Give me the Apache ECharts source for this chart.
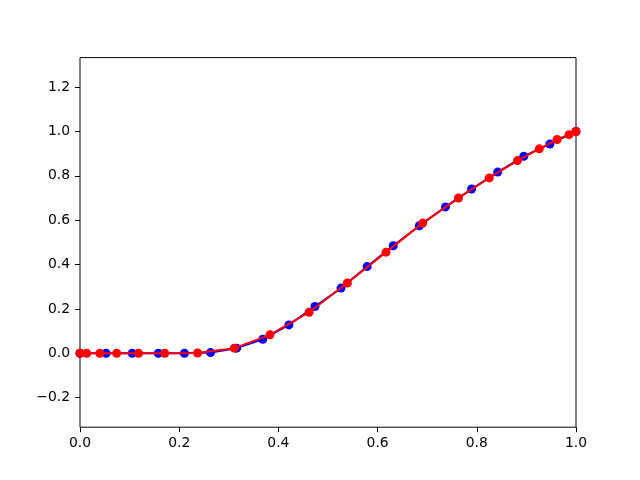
<!DOCTYPE html>
<html>
<head>
<meta charset="utf-8">
<script src="https://cdn.jsdelivr.net/npm/echarts@6/dist/echarts.min.js"></script>
<style>
html,body{margin:0;padding:0;background:#fff;}
#chart{width:640px;height:480px;}
</style>
</head>
<body>
<div id="chart"></div>
<script>
var blueX = [0, 0.0526, 0.1053, 0.1579, 0.2105, 0.2632, 0.3158, 0.3684, 0.4211, 0.4737,
             0.5263, 0.5789, 0.6316, 0.6842, 0.7368, 0.7895, 0.8421, 0.8947, 0.9474, 1.0];
var blueY = [0, 0, 0, 0, 0, 0.003, 0.023, 0.063, 0.128, 0.211,
             0.294, 0.391, 0.485, 0.575, 0.660, 0.741, 0.817, 0.888, 0.944, 1.0];
var redX = [0, 0.0135, 0.040, 0.074, 0.118, 0.171, 0.237, 0.311, 0.383, 0.462,
            0.539, 0.617, 0.691, 0.763, 0.825, 0.882, 0.926, 0.962, 0.986, 1.0];
var redY = [0, 0, 0, 0, 0, 0, 0.001, 0.023, 0.083, 0.185,
            0.317, 0.456, 0.587, 0.700, 0.791, 0.869, 0.922, 0.964, 0.986, 1.0];
var xTicks = [0, 0.2, 0.4, 0.6, 0.8, 1.0];
var yTicks = [-0.2, 0, 0.2, 0.4, 0.6, 0.8, 1.0, 1.2];

function pairs(xs, ys) { return xs.map(function (x, i) { return [x, ys[i]]; }); }
function fmt(v) { var s = Number(v).toFixed(1); return s.charAt(0) === '-' ? '\u2212' + s.slice(1) : s; }

var chart = echarts.init(document.getElementById('chart'), null, {renderer: 'canvas'});
var font = 'DejaVu Sans';
chart.setOption({
  animation: false,
  backgroundColor: '#ffffff',
  grid: {left: 80, right: 64, top: 57.6, bottom: 52.8, show: true, borderColor: '#000', borderWidth: 1, backgroundColor: 'transparent'},
  xAxis: {
    type: 'value', min: 0, max: 1, interval: 0.2,
    axisLine: {show: false, onZero: false},
    splitLine: {show: false},
    axisTick: {show: true, length: 5, lineStyle: {color: '#000', width: 1}, customValues: xTicks},
    axisLabel: {color: '#000', fontFamily: font, fontSize: 13.9, margin: 9, formatter: fmt, customValues: xTicks}
  },
  yAxis: {
    type: 'value', min: -0.3335, max: 1.3335,
    axisLine: {show: false, onZero: false},
    splitLine: {show: false},
    axisTick: {show: true, length: 5, lineStyle: {color: '#000', width: 1}, customValues: yTicks},
    axisLabel: {color: '#000', fontFamily: font, fontSize: 13.9, margin: 10, formatter: fmt, customValues: yTicks}
  },
  series: [
    {
      type: 'line', data: pairs(blueX, blueY), symbol: 'circle', symbolSize: 9,
      itemStyle: {color: '#0000ff'}, lineStyle: {color: '#0000ff', width: 2},
      clip: true, z: 2
    },
    {
      type: 'line', data: pairs(redX, redY), symbol: 'circle', symbolSize: 9,
      itemStyle: {color: '#ff0000'}, lineStyle: {color: '#ff0000', width: 2},
      clip: true, z: 3
    }
  ]
});
</script>
</body>
</html>
